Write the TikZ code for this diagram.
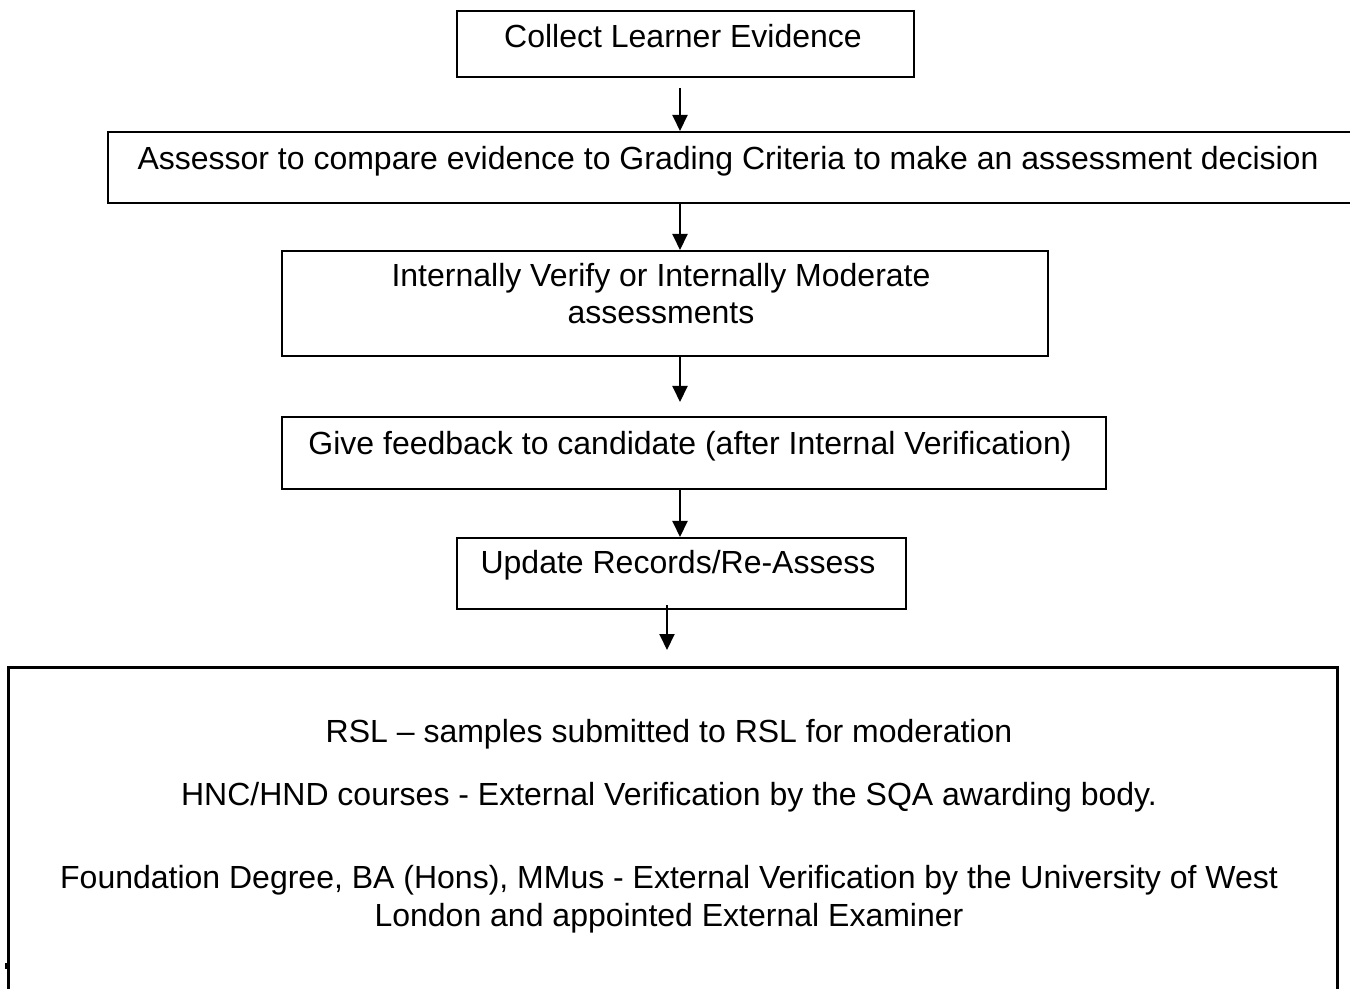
\documentclass[tikz,border=0pt]{standalone}
\usepackage{fontspec}
\setmainfont{Liberation Sans}
\usetikzlibrary{arrows.meta,calc}
\begin{document}
\begin{tikzpicture}[x=0.5pt,y=-0.5pt,
  box/.style={draw=black,line width=1pt,inner sep=0pt,anchor=north west},
  bigbox/.style={draw=black,line width=1.6pt,inner sep=0pt,anchor=north west},
  txt/.style={anchor=base,inner sep=0pt,align=center,font=\fontsize{16pt}{18.5pt}\selectfont},
  arr/.style={line width=1pt,-{Triangle[width=7.5pt,length=8pt]}}]
\useasboundingbox[fill=white] (0,0) rectangle (1350,989);
% boxes
\node[box,minimum width=228.5pt,minimum height=33pt] (b1) at (456,10) {};
\node[box,minimum width=624pt,minimum height=35.5pt] (b2) at (107,131) {};
\node[box,minimum width=383pt,minimum height=52.5pt] (b3) at (281,250) {};
\node[box,minimum width=412pt,minimum height=36pt] (b4) at (281,416) {};
\node[box,minimum width=224.5pt,minimum height=35.5pt] (b5) at (456,537) {};
\node[bigbox,minimum width=664.5pt,minimum height=170pt] (b6) at (7,666) {};
% texts
\node[txt] (t1) at (683,48) {Collect Learner Evidence};
\node[txt] (t2) at (728,170) {Assessor to compare evidence to Grading Criteria to make an assessment decision};
\node[txt] (t3a) at (661,287) {Internally Verify or Internally Moderate};
\node[txt] (t3b) at (661,324) {assessments};
\node[txt] (t4) at (690,455) {Give feedback to candidate (after Internal Verification)};
\node[txt] (t5) at (678,574) {Update Records/Re-Assess};
\node[txt] (t6) at (669,742) {RSL -- samples submitted to RSL for moderation};
\node[txt] (t7) at (669,805) {HNC/HND courses - External Verification by the SQA awarding body.};
\node[txt] (t8) at (669,888) {Foundation Degree, BA (Hons), MMus - External Verification by the University of West};
\node[txt] (t9) at (669,926) {London and appointed External Examiner};
% connectors
\coordinate (ax) at (680,0);
\coordinate (ax5) at (667,0);
\draw[arr] ($(b1.south -| ax)+(0,10)$) -- (b2.north -| ax);
\draw[arr] (b2.south -| ax) -- (b3.north -| ax);
\draw[arr] (b3.south -| ax) -- ($(b4.north -| ax)+(0,-14)$);
\draw[arr] (b4.south -| ax) -- (b5.north -| ax);
\draw[arr] ($(b5.south -| ax5)+(0,-5)$) -- ($(b6.north -| ax5)+(0,-16)$);
% small mark
\fill[black] (4.5,963) rectangle (6.5,969);
\end{tikzpicture}
\end{document}
